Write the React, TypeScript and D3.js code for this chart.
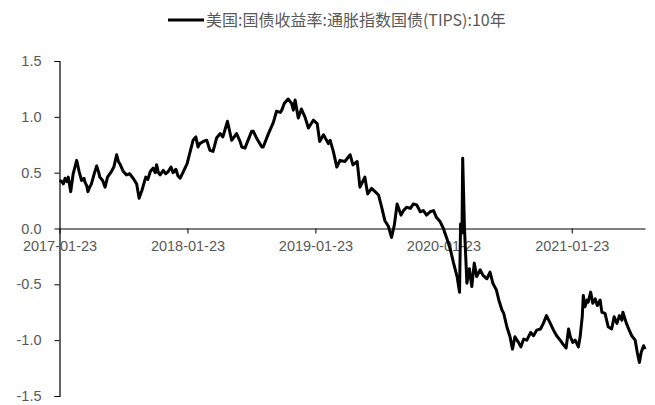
import { useEffect, useRef } from "react"
import * as d3 from "d3"

// 美国:国债收益率:通胀指数国债(TIPS):10年
const seriesName = "美国:国债收益率:通胀指数国债(TIPS):10年"

const dates = [
  "2017-01-23", "2017-01-30", "2017-02-03", "2017-02-08", "2017-02-13", "2017-02-17", "2017-02-24", "2017-03-03",
  "2017-03-08", "2017-03-13", "2017-03-20", "2017-03-27", "2017-04-03", "2017-04-05", "2017-04-11", "2017-04-14",
  "2017-04-19", "2017-04-24", "2017-05-02", "2017-05-09", "2017-05-15", "2017-05-18", "2017-05-26", "2017-06-02",
  "2017-06-09", "2017-06-20", "2017-06-27", "2017-07-05", "2017-07-10", "2017-07-14", "2017-07-24", "2017-08-02",
  "2017-08-11", "2017-08-21", "2017-08-31", "2017-09-07", "2017-09-15", "2017-09-26", "2017-10-02", "2017-10-09",
  "2017-10-17", "2017-10-23", "2017-10-27", "2017-11-01", "2017-11-06", "2017-11-15", "2017-11-22", "2017-11-29",
  "2017-12-07", "2017-12-13", "2017-12-21", "2017-12-27", "2018-01-02", "2018-01-10", "2018-01-22", "2018-01-30",
  "2018-02-08", "2018-02-16", "2018-02-22", "2018-02-27", "2018-03-09", "2018-03-19", "2018-03-28", "2018-04-06",
  "2018-04-16", "2018-04-26", "2018-05-04", "2018-05-17", "2018-05-29", "2018-06-12", "2018-06-22", "2018-06-27",
  "2018-07-06", "2018-07-11", "2018-07-25", "2018-07-30", "2018-08-08", "2018-08-23", "2018-08-27", "2018-09-11",
  "2018-09-25", "2018-10-04", "2018-10-15", "2018-10-19", "2018-10-26", "2018-11-06", "2018-11-16", "2018-11-21",
  "2018-11-26", "2018-12-05", "2018-12-14", "2018-12-24", "2019-01-03", "2019-01-17", "2019-01-28", "2019-02-04",
  "2019-02-15", "2019-02-20", "2019-03-01", "2019-03-06", "2019-03-15", "2019-03-25", "2019-04-03", "2019-04-17",
  "2019-05-02", "2019-05-10", "2019-05-22", "2019-05-30", "2019-06-13", "2019-06-21", "2019-07-02", "2019-07-12",
  "2019-07-22", "2019-07-31", "2019-08-09", "2019-08-19", "2019-08-28", "2019-09-05", "2019-09-13", "2019-09-24",
  "2019-10-01", "2019-10-10", "2019-10-21", "2019-10-29", "2019-11-08", "2019-11-18", "2019-11-27", "2019-12-06",
  "2019-12-16", "2019-12-26", "2020-01-03", "2020-01-14", "2020-01-23", "2020-02-03", "2020-02-12", "2020-02-21",
  "2020-03-02", "2020-03-09", "2020-03-12", "2020-03-16", "2020-03-18", "2020-03-23", "2020-03-30", "2020-04-06",
  "2020-04-13", "2020-04-20", "2020-04-27", "2020-05-07", "2020-05-15", "2020-05-26", "2020-06-04", "2020-06-12",
  "2020-06-22", "2020-06-29", "2020-07-08", "2020-07-13", "2020-07-22", "2020-07-31", "2020-08-07", "2020-08-14",
  "2020-08-24", "2020-08-31", "2020-09-08", "2020-09-17", "2020-09-28", "2020-10-06", "2020-10-15", "2020-10-26",
  "2020-11-03", "2020-11-12", "2020-11-23", "2020-12-02", "2020-12-11", "2020-12-21", "2020-12-30", "2021-01-07",
  "2021-01-14", "2021-01-19", "2021-01-26", "2021-02-02", "2021-02-11", "2021-02-16", "2021-02-22", "2021-02-25",
  "2021-03-02", "2021-03-08", "2021-03-11", "2021-03-18", "2021-03-24", "2021-03-31", "2021-04-06", "2021-04-14",
  "2021-04-19", "2021-04-28", "2021-05-07", "2021-05-17", "2021-05-24", "2021-06-01", "2021-06-08", "2021-06-15",
  "2021-06-18", "2021-06-28", "2021-07-06", "2021-07-13", "2021-07-23", "2021-07-29", "2021-08-04", "2021-08-09",
  "2021-08-16", "2021-08-20",
]

const values = [
  0.43, 0.42, 0.40, 0.45, 0.42, 0.46, 0.33, 0.49,
  0.55, 0.61, 0.51, 0.43, 0.45, 0.42, 0.38, 0.33,
  0.37, 0.40, 0.49, 0.56, 0.50, 0.46, 0.43, 0.37,
  0.46, 0.51, 0.55, 0.66, 0.60, 0.58, 0.51, 0.48,
  0.49, 0.45, 0.40, 0.27, 0.34, 0.46, 0.44, 0.51,
  0.54, 0.50, 0.57, 0.50, 0.48, 0.52, 0.49, 0.51,
  0.55, 0.50, 0.53, 0.47, 0.45, 0.50, 0.58, 0.68,
  0.79, 0.82, 0.73, 0.76, 0.78, 0.79, 0.70, 0.69,
  0.81, 0.85, 0.82, 0.96, 0.79, 0.85, 0.78, 0.73,
  0.72, 0.76, 0.87, 0.87, 0.81, 0.73, 0.73, 0.85,
  0.95, 1.05, 1.04, 1.06, 1.12, 1.16, 1.12, 1.06,
  1.15, 0.99, 1.07, 1.00, 0.90, 0.97, 0.94, 0.78,
  0.84, 0.81, 0.76, 0.79, 0.69, 0.55, 0.61, 0.60,
  0.66, 0.57, 0.60, 0.37, 0.46, 0.31, 0.36, 0.33,
  0.30, 0.19, 0.07, 0.02, -0.08, 0.03, 0.22, 0.12,
  0.16, 0.19, 0.18, 0.22, 0.21, 0.15, 0.16, 0.12,
  0.15, 0.16, 0.10, 0.06, 0.00, -0.10, -0.19, -0.31,
  -0.43, -0.57, 0.04, -0.04, 0.63, 0.01, -0.49, -0.36,
  -0.52, -0.31, -0.43, -0.37, -0.42, -0.45, -0.39, -0.49,
  -0.55, -0.64, -0.73, -0.76, -0.88, -0.97, -1.08, -0.97,
  -1.02, -1.06, -0.99, -1.00, -0.93, -0.96, -0.91, -0.90,
  -0.85, -0.78, -0.85, -0.91, -0.96, -1.00, -1.04, -1.07,
  -0.90, -0.97, -1.02, -1.00, -1.06, -0.97, -0.79, -0.60,
  -0.70, -0.64, -0.66, -0.57, -0.67, -0.63, -0.69, -0.64,
  -0.75, -0.76, -0.88, -0.90, -0.79, -0.85, -0.78, -0.82,
  -0.75, -0.85, -0.91, -0.96, -1.00, -1.11, -1.20, -1.11,
  -1.05, -1.08,
]

const xTickDates = ["2017-01-23", "2018-01-23", "2019-01-23", "2020-01-23", "2021-01-23"]
const yTicks = [-1.5, -1.0, -0.5, 0.0, 0.5, 1.0, 1.5]

export default function App() {
  const svgRef = useRef<SVGSVGElement>(null)

  useEffect(() => {
    if (!svgRef.current) return
    const parse = d3.timeParse("%Y-%m-%d")
    const data = dates.map((d, i) => ({ date: parse(d) as Date, value: values[i] }))

    const svg = d3.select(svgRef.current)
    svg.selectAll("*").remove()

    const left = 59.5
    const right = 645
    const top = 61
    const bottom = 396

    const x = d3
      .scaleTime()
      .domain(d3.extent(data, (d) => d.date) as [Date, Date])
      .range([left, right])

    const y = d3.scaleLinear().domain([-1.5, 1.5]).range([bottom, top])

    const font = "'Liberation Sans', Arial, sans-serif"
    const grey = "#595959"

    // Y axis
    const yAxis = svg
      .append("g")
      .attr("transform", `translate(${left},0)`)
      .call(
        d3
          .axisLeft(y)
          .tickValues(yTicks)
          .tickSize(5)
          .tickPadding(13)
          .tickFormat(d3.format(".1f")),
      )
    yAxis.select(".domain").attr("stroke", "#000").attr("stroke-width", 1.2)
    yAxis.selectAll("line").attr("stroke", "#000")
    yAxis
      .selectAll("text")
      .attr("fill", grey)
      .attr("font-family", font)
      .attr("font-size", "14.5px")
      .text((d: any) => (d === 0 ? "0.0" : d3.format(".1f")(d).replace("−", "-")))

    // X axis at y = 0
    const xAxis = svg
      .append("g")
      .attr("transform", `translate(0,${y(0)})`)
      .call(
        d3
          .axisBottom(x)
          .tickValues(xTickDates.map((d) => parse(d) as Date))
          .tickSize(5)
          .tickSizeOuter(0)
          .tickPadding(7)
          .tickFormat(d3.timeFormat("%Y-%m-%d") as any),
      )
    xAxis.select(".domain").attr("stroke", "#000").attr("stroke-width", 1.2)
    xAxis.selectAll("line").attr("stroke", "#000")
    xAxis
      .selectAll("text")
      .attr("fill", grey)
      .attr("font-family", font)
      .attr("font-size", "14.5px")

    // Series line
    const line = d3
      .line<{ date: Date; value: number }>()
      .x((d) => x(d.date))
      .y((d) => y(d.value))

    svg
      .append("path")
      .datum(data)
      .attr("fill", "none")
      .attr("stroke", "#000")
      .attr("stroke-width", 3)
      .attr("stroke-linejoin", "round")
      .attr("d", line)

    // Legend
    const legend = svg.append("g")
    legend
      .append("line")
      .attr("x1", 168)
      .attr("x2", 204)
      .attr("y1", 20)
      .attr("y2", 20)
      .attr("stroke", "#000")
      .attr("stroke-width", 3)
    legend
      .append("text")
      .attr("x", 206)
      .attr("y", 26)
      .attr("fill", grey)
      .attr("font-family", "'Noto Sans CJK SC', sans-serif")
      .attr("font-size", "16px")
      .text(seriesName)
  }, [])

  return (
    <svg
      ref={svgRef}
      width={655}
      height={405}
      style={{ position: "absolute", left: 0, top: 0, background: "#fff" }}
    />
  )
}
